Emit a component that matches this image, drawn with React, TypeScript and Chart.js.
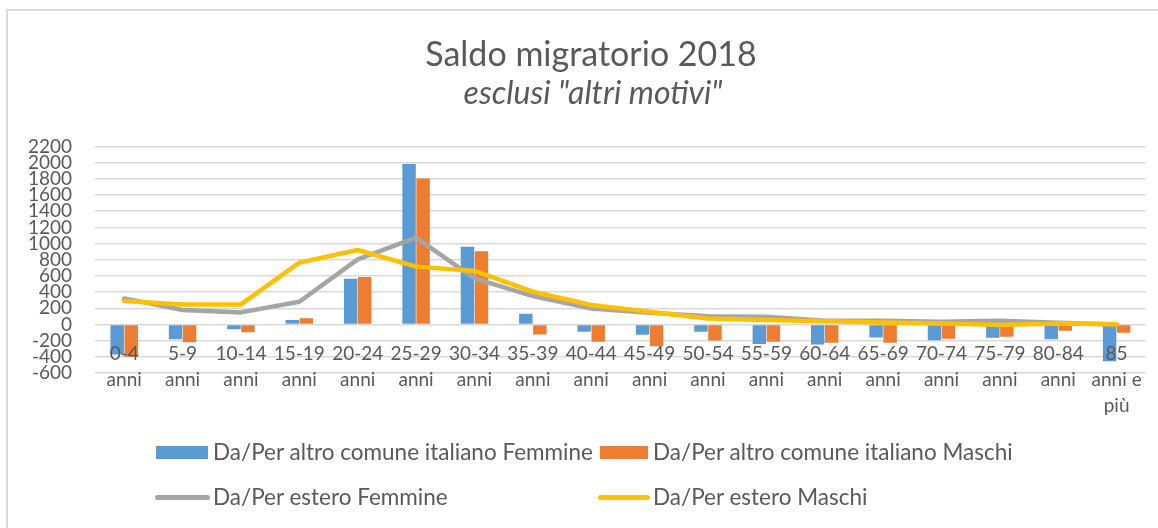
import React, { useEffect, useRef } from "react";
import { Chart, registerables } from "chart.js";

Chart.register(...registerables);

// ---- Data ----
const categories: string[][] = [
  ["0-4", "anni"], ["5-9", "anni"], ["10-14", "anni"], ["15-19", "anni"],
  ["20-24", "anni"], ["25-29", "anni"], ["30-34", "anni"], ["35-39", "anni"],
  ["40-44", "anni"], ["45-49", "anni"], ["50-54", "anni"], ["55-59", "anni"],
  ["60-64", "anni"], ["65-69", "anni"], ["70-74", "anni"], ["75-79", "anni"],
  ["80-84", "anni"], ["85", "anni e", "più"],
];

const comuneFemmine = [-370, -182, -58, 54, 566, 1985, 962, 132, -91, -128, -91, -240, -248, -161, -194, -165, -182, -454];
const comuneMaschi = [-400, -219, -95, 78, 586, 1805, 905, -124, -215, -268, -198, -215, -227, -227, -178, -153, -78, -103];
const esteroFemmine = [322, 178, 149, 281, 805, 1074, 570, 351, 198, 145, 103, 95, 45, 45, 33, 45, 21, 0];
const esteroMaschi = [289, 248, 248, 764, 921, 715, 661, 405, 240, 157, 74, 54, 40, 25, 12, -8, 12, 4];

const seriesLabels = [
  "Da/Per altro comune italiano Femmine",
  "Da/Per altro comune italiano Maschi",
  "Da/Per estero Femmine",
  "Da/Per estero Maschi",
];
const seriesColors = ["#5B9BD5", "#ED7D31", "#A5A5A5", "#FFC000"];

const titleText = "Saldo migratorio 2018";
const subtitleText = 'esclusi "altri motivi"';

const yMin = -600;
const yMax = 2200;
const yStep = 200;

const FONT = "Lato, 'Open Sans', 'DejaVu Sans', sans-serif";
const TEXT = "#595959";

export default function App() {
  const canvasRef = useRef<HTMLCanvasElement | null>(null);

  useEffect(() => {
    const canvas = canvasRef.current;
    if (!canvas) return;
    const chart = new Chart(canvas, {
      type: "bar",
      data: {
        labels: categories,
        datasets: [
          {
            type: "bar",
            label: seriesLabels[0],
            data: comuneFemmine,
            backgroundColor: seriesColors[0],
            categoryPercentage: 0.48,
            barPercentage: 0.96,
            order: 3,
          },
          {
            type: "bar",
            label: seriesLabels[1],
            data: comuneMaschi,
            backgroundColor: seriesColors[1],
            categoryPercentage: 0.48,
            barPercentage: 0.96,
            order: 3,
          },
          {
            type: "line",
            label: seriesLabels[2],
            data: esteroFemmine,
            borderColor: seriesColors[2],
            backgroundColor: seriesColors[2],
            borderWidth: 4.5,
            pointRadius: 0,
            tension: 0,
            borderJoinStyle: "round",
            borderCapStyle: "round",
            order: 1,
          },
          {
            type: "line",
            label: seriesLabels[3],
            data: esteroMaschi,
            borderColor: seriesColors[3],
            backgroundColor: seriesColors[3],
            borderWidth: 4.5,
            pointRadius: 0,
            tension: 0,
            borderJoinStyle: "round",
            borderCapStyle: "round",
            order: 0,
          },
        ],
      } as any,
      options: {
        responsive: false,
        animation: false,
        layout: { padding: { left: 0, right: 12, top: 146.5, bottom: 155 } },
        plugins: {
          legend: { display: false },
          tooltip: { enabled: false },
          title: { display: false },
        },
        scales: {
          x: {
            position: { y: 0 } as any,
            grid: { display: false, drawTicks: false },
            border: { display: false },
            ticks: {
              z: 1,
              color: TEXT,
              autoSkip: false,
              maxRotation: 0,
              padding: 16,
              font: { family: FONT, size: 19, lineHeight: 1.37 },
            },
          },
          y: {
            min: yMin,
            max: yMax,
            grid: { color: "#d9d9d9", lineWidth: 1.5, drawTicks: false },
            border: { display: false },
            ticks: {
              stepSize: yStep,
              autoSkip: false,
              color: TEXT,
              padding: 23,
              font: { family: FONT, size: 19 },
              callback: (v: any) => String(v),
            },
            afterFit: (scale: any) => {
              scale.width = 95;
            },
          },
        },
      },
    });
    return () => chart.destroy();
  }, []);

  const legendPos = [
    { swLeft: 156, swWidth: 52, textLeft: 213, cy: 452, kind: "bar" },
    { swLeft: 600, swWidth: 48, textLeft: 653, cy: 452, kind: "bar" },
    { swLeft: 155, swWidth: 55, textLeft: 213, cy: 497, kind: "line" },
    { swLeft: 598, swWidth: 52, textLeft: 653, cy: 497, kind: "line" },
  ];

  return (
    <div
      style={{
        position: "fixed",
        left: 0,
        top: 0,
        width: 1158,
        height: 528,
        overflow: "hidden",
        background: "#ffffff",
      }}
    >
      <div
        style={{
          position: "absolute",
          left: 6,
          top: 9,
          width: 1300,
          height: 700,
          borderTop: "2px solid #d9d9d9",
          borderLeft: "2px solid #d9d9d9",
        }}
      />
      <canvas
        ref={canvasRef}
        width={1158}
        height={528}
        style={{ position: "absolute", left: 0, top: 0, width: 1158, height: 528 }}
      />
      <div
        style={{
          position: "absolute",
          left: 291,
          width: 600,
          top: 33,
          textAlign: "center",
          fontFamily: FONT,
          fontSize: 34,
          lineHeight: 1.2,
          color: TEXT,
          whiteSpace: "nowrap",
        }}
      >
        {titleText}
      </div>
      <div
        style={{
          position: "absolute",
          left: 293,
          width: 600,
          top: 73,
          textAlign: "center",
          fontFamily: FONT,
          fontSize: 32,
          fontStyle: "italic",
          lineHeight: 1.2,
          color: TEXT,
          whiteSpace: "nowrap",
        }}
      >
        {subtitleText}
      </div>
      {legendPos.map((p, i) => (
        <React.Fragment key={i}>
          <div
            style={{
              position: "absolute",
              left: p.swLeft,
              top: p.kind === "bar" ? p.cy - 6.5 : p.cy - 2.5,
              width: p.swWidth,
              height: p.kind === "bar" ? 13 : 5,
              borderRadius: p.kind === "bar" ? 0 : 3,
              background: seriesColors[i],
            }}
          />
          <div
            style={{
              position: "absolute",
              left: p.textLeft,
              top: p.cy - 14,
              height: 28,
              lineHeight: "28px",
              fontFamily: FONT,
              fontSize: 22.5,
              color: TEXT,
              whiteSpace: "nowrap",
            }}
          >
            {seriesLabels[i]}
          </div>
        </React.Fragment>
      ))}
    </div>
  );
}
